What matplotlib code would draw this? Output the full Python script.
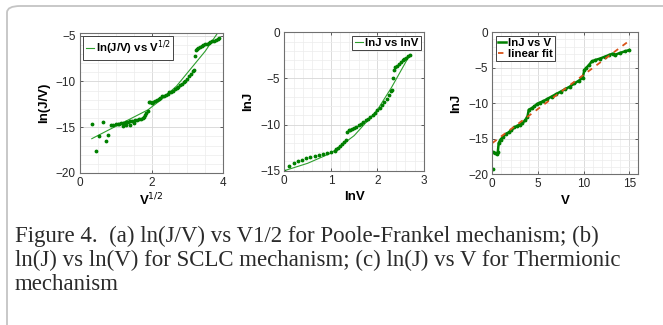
import numpy as np
import matplotlib
matplotlib.use("Agg")
import matplotlib.pyplot as plt
from matplotlib.patches import FancyBboxPatch
from matplotlib.ticker import MultipleLocator

# (a) Poole-Frenkel: ln(J/V) vs V^(1/2)
pf_x = [0.33, 0.45, 0.54, 0.63, 0.72, 0.78,
        0.86, 0.93, 1.0, 1.05, 1.1, 1.15, 1.2, 1.25, 1.3, 1.35, 1.4, 1.45, 1.5, 1.55, 1.6, 1.65, 1.7, 1.75,
        1.2, 1.3, 1.4, 1.5,
        1.78, 1.82, 1.86, 1.9,
        1.93, 1.97, 2.0, 2.05, 2.1,
        2.15, 2.2, 2.25, 2.3, 2.35, 2.4, 2.45, 2.5, 2.55, 2.6, 2.65, 2.7, 2.75, 2.8, 2.85, 2.9, 2.95, 3.0,
        3.05, 3.1, 3.15, 3.18,
        3.22, 3.25, 3.28, 3.3, 3.35, 3.4, 3.45, 3.5, 3.55, 3.6, 3.65, 3.7, 3.75, 3.8, 3.85, 3.9]
pf_y = [-14.6, -17.6, -16.0, -14.45, -16.5, -15.85,
        -14.75, -14.7, -14.65, -14.6, -14.6, -14.55, -14.5, -14.5, -14.45, -14.4, -14.35, -14.3, -14.3,
        -14.25, -14.2, -14.15, -14.1, -14.0,
        -14.9, -14.8, -14.7, -14.55,
        -13.9, -13.7, -13.45, -13.2,
        -12.2, -12.25, -12.3, -12.25, -12.1,
        -12.0, -11.9, -11.75, -11.6, -11.55, -11.45, -11.35, -11.2, -11.1, -11.0, -10.85, -10.7, -10.55,
        -10.4, -10.25, -10.1, -9.9, -9.7,
        -9.45, -9.2, -8.9, -8.7,
        -7.2, -6.6, -6.4, -6.35, -6.2, -6.1, -6.0, -5.95, -5.85, -5.8, -5.7, -5.6, -5.55, -5.45, -5.35, -5.25]
pf_line_x = [0.33, 0.8, 1.3, 1.9, 2.3, 2.7, 3.1, 3.5, 3.85]
pf_line_y = [-16.25, -15.3, -14.3, -13.1, -11.9, -10.5, -8.6, -6.7, -4.7]

# (b) SCLC: lnJ vs lnV
sc_x = [0.0, 0.1, 0.2, 0.29, 0.39, 0.47, 0.56, 0.65, 0.75, 0.83, 0.92, 1.01, 1.08,
        1.12, 1.16, 1.2, 1.24, 1.28, 1.32,
        1.34, 1.38, 1.42, 1.46, 1.5, 1.55, 1.6, 1.65,
        1.7, 1.75, 1.8, 1.85, 1.9, 1.95, 2.0, 2.05, 2.1, 2.15, 2.2, 2.25, 2.3, 2.32,
        2.33, 2.35, 2.38, 2.42, 2.46, 2.5, 2.54, 2.58, 2.62, 2.66, 2.7]
sc_y = [-15.0, -14.45, -14.2, -14.0, -13.8, -13.65, -13.5, -13.4, -13.3, -13.2, -13.05, -12.95, -12.9,
        -12.7, -12.5, -12.3, -12.1, -11.9, -11.7,
        -10.8, -10.6, -10.55, -10.5, -10.4, -10.3, -10.1, -9.9,
        -9.75, -9.55, -9.35, -9.15, -8.95, -8.7, -8.45, -8.2, -7.9, -7.55, -7.2, -6.8, -6.4, -6.2,
        -5.0, -4.1, -3.8, -3.6, -3.4, -3.2, -3.05, -2.9, -2.75, -2.6, -2.45]
sc_line_x = [0.0, 0.5, 1.0, 1.5, 2.0, 2.3, 2.5, 2.7]
sc_line_y = [-15.0, -14.2, -13.1, -11.2, -8.4, -6.0, -4.2, -2.4]

# (c) Thermionic: lnJ vs V
te_v = [0.05, 0.1, 0.3, 0.5, 0.6, 0.7, 0.9, 1.2, 1.5, 1.8, 2.1, 2.4, 2.7, 3.0, 3.3, 3.6, 3.85,
        4.0, 4.3, 4.6, 4.9, 5.2, 5.6, 6.0, 6.5, 7.0, 7.5, 8.0, 8.5, 9.0, 9.5, 9.9,
        10.1, 10.3, 10.6, 10.9, 11.3, 11.8, 12.3, 12.8, 13.2, 13.5, 14.0, 14.5, 15.0]
te_lnj = [-19.2, -16.9, -17.0, -17.1, -16.9, -15.6, -15.1, -14.7, -14.3, -14.1, -13.8, -13.4, -13.2,
          -13.0, -12.8, -12.4, -11.9,
          -10.9, -10.7, -10.45, -10.1, -9.9, -9.7, -9.4, -9.05, -8.7, -8.35, -8.0, -7.65, -7.2, -6.8, -6.4,
          -5.3, -5.0, -4.6, -4.1, -3.9, -3.7, -3.45, -3.2, -3.0, -3.15, -2.9, -2.7, -2.5]
fit_v = [0.0, 15.0]
fit_lnj = [-15.6, -1.2]

caption_lines = [
    "Figure 4.  (a) ln(J/V) vs V1/2 for Poole-Frankel mechanism; (b)",
    "ln(J) vs ln(V) for SCLC mechanism; (c) ln(J) vs V for Thermionic",
    "mechanism",
]

GREEN = "#008000"
LINE_GREEN = "#2e9e2e"
ORANGE = "#d95319"
plt.rcParams["font.family"] = ["Liberation Sans", "DejaVu Sans"]

W, H = 663, 325
fig = plt.figure(figsize=(W / 100, H / 100), dpi=100)


def px_axes(left, top, right, bottom):
    return fig.add_axes([left / W, 1 - bottom / H, (right - left) / W, (bottom - top) / H])


def style(ax, xmin, xmax, ymin, ymax, xmajor, xminor, ymajor):
    ax.set_xlim(xmin, xmax)
    ax.set_ylim(ymin, ymax)
    ax.xaxis.set_major_locator(MultipleLocator(xmajor))
    ax.xaxis.set_minor_locator(MultipleLocator(xminor))
    ax.yaxis.set_major_locator(MultipleLocator(ymajor))
    ax.yaxis.set_minor_locator(MultipleLocator(1))
    ax.set_axisbelow(True)
    ax.grid(True, which="major", color="#d6d6d6", lw=0.6)
    ax.grid(True, which="minor", color="#ececec", lw=0.5)
    ax.tick_params(which="major", direction="in", length=2.5, width=0.5, top=True, right=True,
                   labelsize=8.5, colors="#262626", pad=3)
    ax.tick_params(which="minor", length=0)
    for s in ax.spines.values():
        s.set_color("#707070")
        s.set_linewidth(0.8)


def legend(ax, loc):
    leg = ax.legend(loc=loc, fancybox=False, framealpha=1, edgecolor="#262626", handlelength=0.7,
                    handletextpad=0.2, borderpad=0.2, labelspacing=0.1, borderaxespad=0.3,
                    prop={"weight": "bold", "size": 8.2})
    leg.get_frame().set_linewidth(0.6)


# panel (a)
ax1 = px_axes(80, 33, 223, 173)
ax1.plot(pf_line_x, pf_line_y, color=LINE_GREEN, lw=0.8, label="ln(J/V) vs V$^{1/2}$")
ax1.plot(pf_x, pf_y, ".", color=GREEN, ms=3.5)
style(ax1, 0, 4, -20, -4.7, 2, 0.5, 5)
ax1.set_xlabel("V$^{1/2}$", fontsize=9.5, fontweight="bold", labelpad=2)
ax1.set_ylabel("ln(J/V)", fontsize=9.5, fontweight="bold", labelpad=4)
legend(ax1, "upper left")

# panel (b)
ax2 = px_axes(284.3, 32.3, 424, 170.7)
ax2.plot(sc_line_x, sc_line_y, color=LINE_GREEN, lw=0.8, label="lnJ vs lnV")
ax2.plot(sc_x, sc_y, ".", color=GREEN, ms=3.5)
style(ax2, 0, 3, -15, 0, 1, 0.2, 5)
ax2.set_xlabel("lnV", fontsize=9.5, fontweight="bold", labelpad=3)
ax2.set_ylabel("lnJ", fontsize=9.5, fontweight="bold", labelpad=4)
legend(ax2, "upper right")

# panel (c)
ax3 = px_axes(492.3, 32.3, 638.3, 174.3)
ax3.plot(te_v[1:], te_lnj[1:], color=GREEN, lw=1.8, label="lnJ vs V")
ax3.plot(te_v, te_lnj, ".", color=GREEN, ms=3.5)
ax3.plot(fit_v, fit_lnj, "--", color=ORANGE, lw=1.3, dashes=(3, 3), label="linear fit")
style(ax3, 0, 16, -20, 0, 5, 1, 5)
ax3.set_xlabel("V", fontsize=9.5, fontweight="bold", labelpad=3)
ax3.set_ylabel("lnJ", fontsize=9.5, fontweight="bold", labelpad=4)
legend(ax3, "upper left")

# caption box with rounded corner
box = FancyBboxPatch((7 / W, -0.2), 1.2, 1 - 6 / H + 0.2, boxstyle="round,pad=0,rounding_size=0.02",
                     transform=fig.transFigure, facecolor="none", edgecolor="#c4c4c4", lw=1.3,
                     clip_on=False)
fig.add_artist(box)

for i, line in enumerate(caption_lines):
    fig.text(15 / W, 1 - (236 + i * 24) / H, line, fontsize=16.5, family="Liberation Serif",
             color="#2b2b2b", va="center", ha="left")

fig.savefig("out.png", dpi=100)
